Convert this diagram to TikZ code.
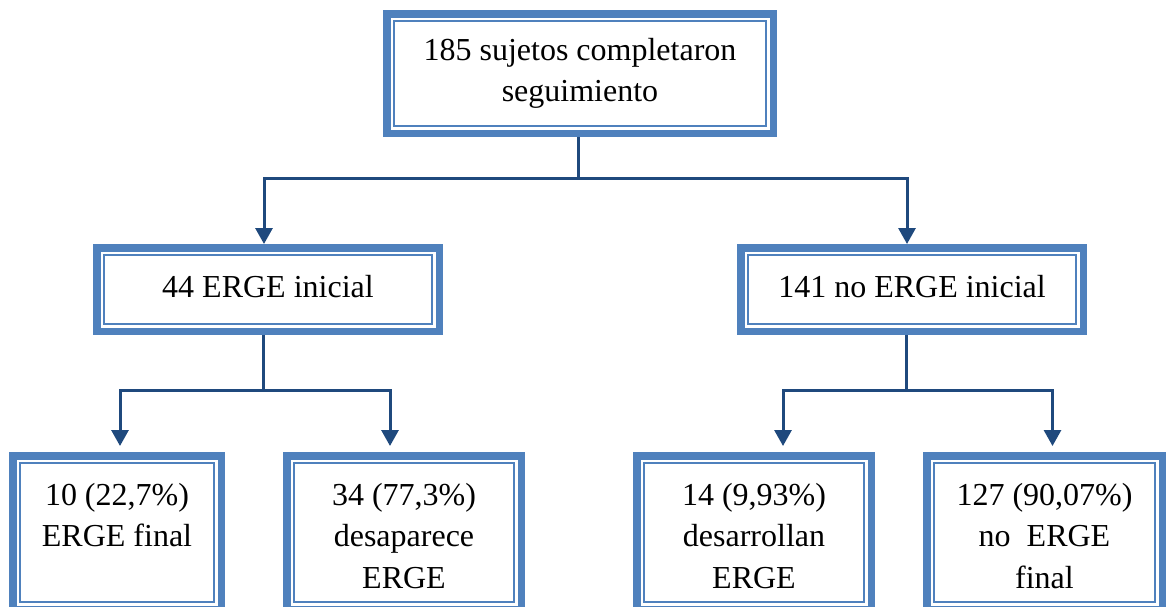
\documentclass[tikz,border=0pt]{standalone}
\usepackage{fontspec}
\setmainfont{Liberation Serif}
\usetikzlibrary{arrows.meta}
\definecolor{bandblue}{RGB}{79,129,189}
\definecolor{linkblue}{RGB}{31,73,125}
\tikzset{
  boxst/.style={draw=bandblue, line width=7.5pt, fill=white, inner sep=0pt, align=center,
    font=\fontsize{32}{41.5}\selectfont},
  innerln/.style={draw=bandblue, line width=1.8pt},
  txt/.style={inner sep=0pt, align=center, font=\fontsize{32}{41.5}\selectfont},
  conn/.style={draw=linkblue, line width=3pt},
  arr/.style={conn, -{Triangle[width=17pt,length=16pt]}}
}
\begin{document}
\begin{tikzpicture}[x=1pt,y=-1pt]
\useasboundingbox (0,0) rectangle (1169,606);
\clip (0,0) rectangle (1169,606);
% boxes
\node[boxst, minimum width=386.5pt, minimum height=119.5pt] (top) at (580,73.5)
  {185 sujetos completaron\\seguimiento};
\node[boxst, minimum width=342.5pt, minimum height=83.5pt, text height=22pt, text depth=7pt] (L1) at (268,289.5)
  {44 ERGE inicial};
\node[boxst, minimum width=342.5pt, minimum height=83.5pt, text height=22pt, text depth=7pt] (R1) at (912,289.5)
  {141 no ERGE inicial};
\node[boxst, minimum width=208.5pt, minimum height=153.5pt] (B1) at (117,532.5) {};
\node[boxst, minimum width=234.5pt, minimum height=153.5pt] (B2) at (404,532.5) {};
\node[boxst, minimum width=234.5pt, minimum height=153.5pt] (B3) at (754,532.5) {};
\node[boxst, minimum width=235.5pt, minimum height=153.5pt] (B4) at (1044.5,532.5) {};
% inner thin frames
\foreach \n in {top,L1,R1,B1,B2,B3,B4}{
  \draw[innerln] ([shift={(11pt,-11pt)}]\n.north west) rectangle ([shift={(-11pt,11pt)}]\n.south east);
}
% texts of lower boxes
\node[txt, anchor=north] (B1t) at ([yshift=-24pt]B1.north) {\strut 10 (22,7\%)\\ERGE final};
\node[txt, anchor=north] (B2t) at ([yshift=-24pt]B2.north) {\strut 34 (77,3\%)\\desaparece\\ERGE};
\node[txt, anchor=north] (B3t) at ([yshift=-24pt]B3.north) {\strut 14 (9,93\%)\\desarrollan\\ERGE};
\node[txt, anchor=north] (B4t) at ([yshift=-24pt]B4.north) {\strut 127 (90,07\%)\\no\ \ ERGE\\final};
% connectors level 1
\draw[conn] ([xshift=-2pt]top.south) -- ++(0,41) coordinate (j1);
\draw[arr] (j1) -| ([xshift=-4pt]L1.north);
\draw[arr] (j1) -| ([xshift=-5pt]R1.north);
% connectors level 2
\draw[conn] ([xshift=-5pt]L1.south) -- ++(0,55) coordinate (j2);
\draw[arr, shorten >=6pt] (j2) -| ([xshift=3pt]B1.north);
\draw[arr, shorten >=6pt] (j2) -| ([xshift=-14pt]B2.north);
\draw[conn] ([xshift=-6pt]R1.south) -- ++(0,55) coordinate (j3);
\draw[arr, shorten >=6pt] (j3) -| ([xshift=29pt]B3.north);
\draw[arr, shorten >=6pt] (j3) -| ([xshift=8pt]B4.north);
\end{tikzpicture}
\end{document}
